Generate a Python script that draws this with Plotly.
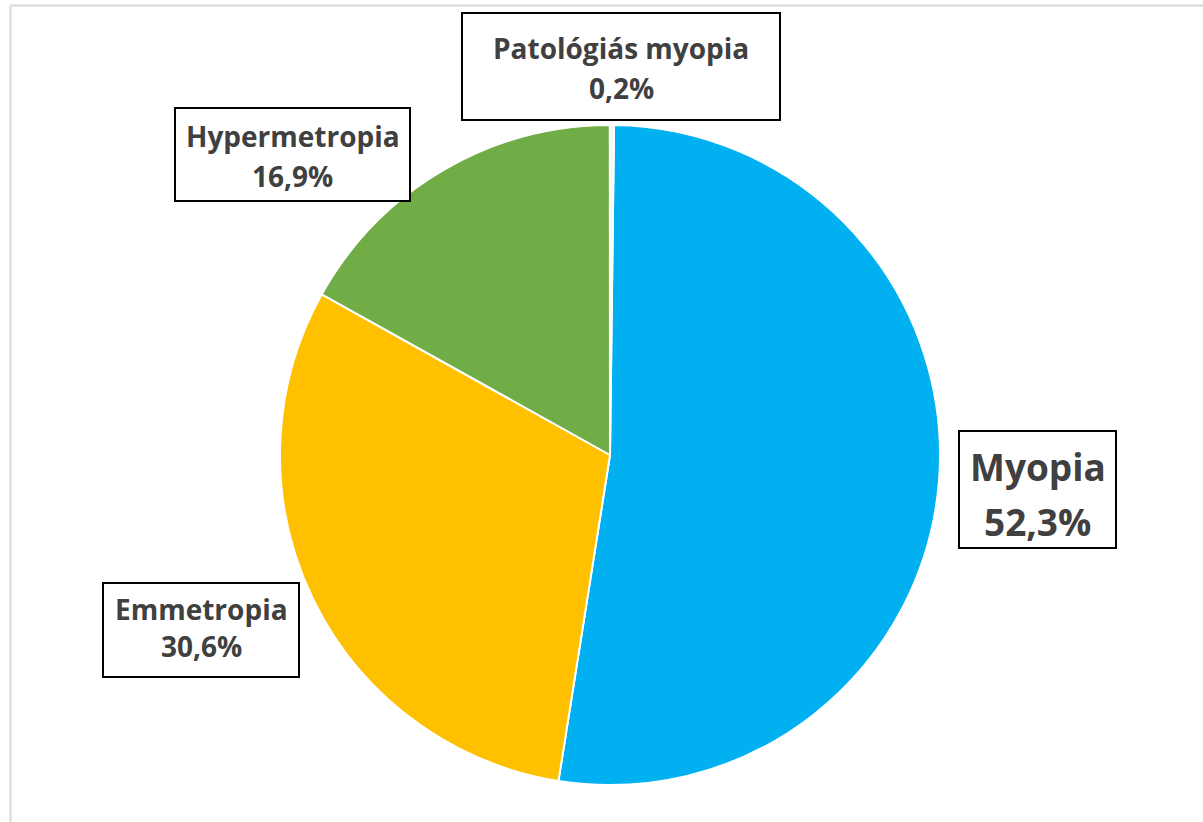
import plotly.graph_objects as go

labels = ["Myopia", "Emmetropia", "Hypermetropia", "Patológiás myopia"]
values = [52.3, 30.6, 16.9, 0.2]
value_text = ["52,3%", "30,6%", "16,9%", "0,2%"]
colors = ["#00B0F0", "#FFC000", "#70AD47", "#F4F4F4"]

W, H = 1203, 822

fig = go.Figure(go.Pie(
    labels=labels,
    values=values,
    sort=False,
    direction="clockwise",
    rotation=0.7,
    marker=dict(colors=colors, line=dict(color="white", width=2)),
    textinfo="none",
    hoverinfo="label+percent",
    showlegend=False,
    domain=dict(x=[(610 - 330) / W, (610 + 330) / W],
                y=[1 - 785 / H, 1 - 125 / H]),
))

# label boxes: (x0, y0, x1, y1 in px, line1 cap-centre y, line2 cap-centre y, font size)
boxes = {
    "Myopia": (959, 431, 1116, 548, 465, 519.5, 37),
    "Emmetropia": (103, 583, 299, 677, 608, 645, 28),
    "Hypermetropia": (175, 108, 410, 201, 135, 175, 28),
    "Patológiás myopia": (462, 13, 780, 120, 47, 87, 28),
}

FONT = "Open Sans"
TXT = "#404040"

for lab, vt in zip(labels, value_text):
    x0, y0, x1, y1, l1, l2, fs = boxes[lab]
    fig.add_shape(type="rect", xref="paper", yref="paper",
                  x0=x0 / W, x1=x1 / W, y0=1 - y0 / H, y1=1 - y1 / H,
                  line=dict(color="#000000", width=2), fillcolor="white",
                  layer="above")
    cx = (x0 + x1) / 2
    for txt, cy in ((lab, l1), (vt, l2)):
        fig.add_annotation(
            x=cx / W, y=1 - (cy + 0.05 * fs) / H, xref="paper", yref="paper",
            xanchor="center", yanchor="middle",
            text=f"<b>{txt}</b>", showarrow=False,
            font=dict(family=FONT, size=fs, color=TXT),
        )

# chart frame edges (light gray)
fig.add_shape(type="line", xref="paper", yref="paper",
              x0=10 / W, x1=1, y0=1 - 5.5 / H, y1=1 - 5.5 / H,
              line=dict(color="#D9D9D9", width=2))
fig.add_shape(type="line", xref="paper", yref="paper",
              x0=10.5 / W, x1=10.5 / W, y0=0, y1=1 - 5.5 / H,
              line=dict(color="#D9D9D9", width=2))

fig.update_layout(
    width=W, height=H,
    margin=dict(l=0, r=0, t=0, b=0),
    paper_bgcolor="white",
    plot_bgcolor="white",
)

fig.write_html("out.html", config={"displayModeBar": False},
               post_script="document.body.style.margin='0';document.body.style.overflow='hidden';")
